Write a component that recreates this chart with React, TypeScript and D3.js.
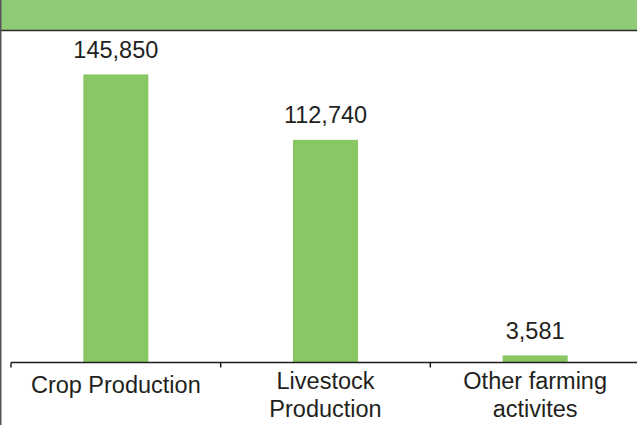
import React from "react";
import * as d3 from "d3";

const categories: string[][] = [["Crop Production"], ["Livestock", "Production"], ["Other farming", "activites"]];
const values: number[] = [145850, 112740, 3581];
const yMax = 160000;

const W = 637;
const H = 425;
const FONT = "'Liberation Sans', Arial, Helvetica, sans-serif";

export default function App() {
  const keys = categories.map((c) => c.join(" "));
  const x = d3.scaleBand<string>().domain(keys).range([11, 640]).paddingInner(0).paddingOuter(0);
  const y = d3.scaleLinear().domain([0, yMax]).range([362.5, 46.5]);
  const fmt = d3.format(",");
  const bw = x.bandwidth() * 0.31;
  const ticks = [...keys.map((k) => x(k) as number), 640];

  return (
    <div style={{ position: "fixed", left: 0, top: 0, width: W, height: H, background: "#fff", overflow: "hidden" }}>
      <svg width={W} height={H} style={{ display: "block" }}>
        <rect x={0} y={0} width={W} height={H} fill="#fff" />
        <rect x={0} y={0} width={W} height={30} fill="#90cb77" />
        <line x1={0} x2={W} y1={30.5} y2={30.5} stroke="#2b2b2b" strokeWidth={1.5} />
        <line x1={0.75} x2={0.75} y1={0} y2={H} stroke="#555" strokeWidth={1.5} />
        {values.map((v, i) => {
          const cx = (x(keys[i]) as number) + x.bandwidth() / 2;
          return (
            <g key={keys[i]}>
              <rect x={cx - bw / 2} y={y(v)} width={bw} height={y(0) - y(v)} fill="#88c764" />
              <text x={cx} y={y(v) - 16.5} textAnchor="middle" fontFamily={FONT} fontSize={23.5} fill="#231f20">
                {fmt(v)}
              </text>
            </g>
          );
        })}
        <line x1={11} x2={W} y1={y(0)} y2={y(0)} stroke="#1e1e1e" strokeWidth={1.5} />
        {ticks.map((t, i) => (
          <line key={i} x1={t} x2={t} y1={y(0)} y2={y(0) + 5} stroke="#1e1e1e" strokeWidth={1.5} />
        ))}
        {categories.map((lines, i) => {
          const cx = (x(keys[i]) as number) + x.bandwidth() / 2;
          const base = lines.length === 1 ? 393 : 389;
          return (
            <text key={keys[i]} textAnchor="middle" fontFamily={FONT} fontSize={23.5} fill="#231f20">
              {lines.map((l, j) => (
                <tspan key={j} x={cx} y={base + j * 27.5}>
                  {l}
                </tspan>
              ))}
            </text>
          );
        })}
      </svg>
    </div>
  );
}
